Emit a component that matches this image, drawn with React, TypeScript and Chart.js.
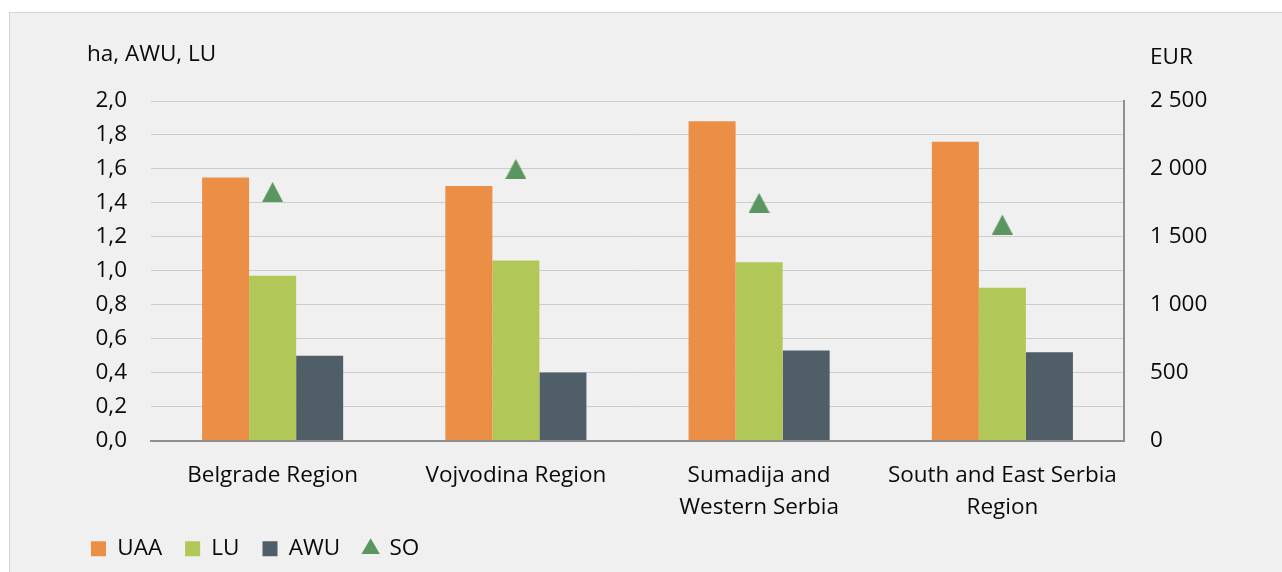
import React, { useEffect, useRef } from 'react';
import { Chart, registerables } from 'chart.js';

Chart.register(...registerables);

const categories: (string | string[])[] = [
  'Belgrade Region',
  'Vojvodina Region',
  ['Sumadija and', 'Western Serbia'],
  ['South and East Serbia', 'Region'],
];
const uaaValues = [1.55, 1.5, 1.88, 1.76];
const luValues = [0.97, 1.06, 1.05, 0.9];
const awuValues = [0.5, 0.4, 0.53, 0.52];
const soValues = [1830, 2000, 1750, 1590];

const leftTitle = 'ha, AWU, LU';
const rightTitle = 'EUR';

const FONT = "'Open Sans', sans-serif";
const FS = 22.5;
const TEXT = '#0a0a0a';
const C_UAA = '#EB8F47';
const C_LU = '#B1C758';
const C_AWU = '#505E68';
const C_SO = '#5B9660';

function makeTriangle(w: number, h: number, color: string) {
  const c = document.createElement('canvas');
  c.width = w;
  c.height = h;
  const ctx = c.getContext('2d')!;
  ctx.fillStyle = color;
  ctx.beginPath();
  ctx.moveTo(w / 2, 0);
  ctx.lineTo(w, h);
  ctx.lineTo(0, h);
  ctx.closePath();
  ctx.fill();
  return c;
}

const fmtLeft = (v: number) => v.toFixed(1).replace('.', ',');
const fmtRight = (v: number) => {
  if (v >= 1000) {
    const th = Math.floor(v / 1000);
    const rest = String(Math.round(v % 1000)).padStart(3, '0');
    return `${th} ${rest}`;
  }
  return String(v);
};

const titlesPlugin = {
  id: 'axisTitles',
  afterDraw(chart: any) {
    const ctx = chart.ctx;
    const area = chart.chartArea;
    ctx.save();
    ctx.font = `${FS}px ${FONT}`;
    ctx.fillStyle = TEXT;
    ctx.textBaseline = 'alphabetic';
    ctx.textAlign = 'left';
    ctx.fillText(leftTitle, area.left - 64, area.top - 40);
    ctx.fillText(rightTitle, area.right + 26, area.top - 37);
    ctx.restore();
  },
};

export default function App() {
  const ref = useRef<HTMLCanvasElement | null>(null);

  useEffect(() => {
    if (!ref.current) return;
    const tri = makeTriangle(21, 20, C_SO);
    const chart = new Chart(ref.current, {
      type: 'bar',
      data: {
        labels: categories as any,
        datasets: [
          { label: 'UAA', data: uaaValues, backgroundColor: C_UAA, yAxisID: 'y', barPercentage: 1, categoryPercentage: 0.58 },
          { label: 'LU', data: luValues, backgroundColor: C_LU, yAxisID: 'y', barPercentage: 1, categoryPercentage: 0.58 },
          { label: 'AWU', data: awuValues, backgroundColor: C_AWU, yAxisID: 'y', barPercentage: 1, categoryPercentage: 0.58 },
          {
            type: 'line' as any,
            label: 'SO',
            data: soValues,
            yAxisID: 'y1',
            showLine: false,
            pointStyle: tri as any,
            pointRadius: 10,
            backgroundColor: C_SO,
            borderColor: C_SO,
          } as any,
        ],
      },
      options: {
        responsive: false,
        animation: false,
        layout: { padding: { left: 68, right: 0, top: 101, bottom: 2 } },
        font: { family: FONT } as any,
        plugins: {
          tooltip: { enabled: false },
          legend: {
            position: 'bottom',
            align: 'start',
            labels: {
              usePointStyle: true,
              boxWidth: 15,
              boxHeight: 15,
              padding: 23,
              color: TEXT,
              font: { family: FONT, size: FS },
              generateLabels: (ch: any) => {
                const base = Chart.defaults.plugins.legend.labels.generateLabels(ch);
                const cols = [C_UAA, C_LU, C_AWU, C_SO];
                return base.map((it: any, i: number) => ({
                  ...it,
                  pointStyle: i === 3 ? 'triangle' : 'rect',
                  fillStyle: cols[i],
                  strokeStyle: cols[i],
                  lineWidth: 0,
                }));
              },
            },
          },
        },
        scales: {
          x: {
            grid: { display: false, drawTicks: false },
            border: { display: true, color: '#8f8f8f', width: 2 },
            ticks: {
              color: TEXT,
              padding: 19,
              maxRotation: 0,
              autoSkip: false,
              font: { family: FONT, size: FS, lineHeight: 1.42 },
            },
            afterFit: (s: any) => {
              s.height = 74;
              s._computeLabelArea = () => undefined;
            },
          },
          y: {
            position: 'left',
            min: 0,
            max: 2,
            grid: { color: '#cccccc', lineWidth: 1, drawTicks: false },
            border: { display: false },
            ticks: {
              stepSize: 0.2,
              color: TEXT,
              padding: 24,
              font: { family: FONT, size: FS },
              callback: (v: any) => fmtLeft(Number(v)),
            },
            afterFit: (s: any) => {
              s.width = 83;
            },
          },
          y1: {
            position: 'right',
            min: 0,
            max: 2500,
            grid: { drawOnChartArea: false, drawTicks: false },
            border: { display: true, color: '#8f8f8f', width: 2 },
            ticks: {
              stepSize: 500,
              color: TEXT,
              padding: 26,
              font: { family: FONT, size: FS },
              callback: (v: any) => fmtRight(Number(v)),
            },
            afterFit: (s: any) => {
              s.width = 158;
            },
          },
        },
      },
      plugins: [titlesPlugin],
    });
    return () => chart.destroy();
  }, []);

  return (
    <div style={{ position: 'fixed', left: 0, top: 0, right: 0, bottom: 0, overflow: 'hidden', background: '#ffffff' }}>
      <div
        style={{
          position: 'absolute',
          left: 9,
          top: 12,
          width: 1300,
          height: 600,
          background: '#f0f0f0',
          borderLeft: '1px solid #d4d4d4',
          borderTop: '1px solid #d4d4d4',
        }}
      />
      <canvas
        ref={ref}
        width={1282}
        height={572}
        style={{ position: 'absolute', left: 0, top: 0, width: 1282, height: 572, display: 'block' }}
      />
    </div>
  );
}
